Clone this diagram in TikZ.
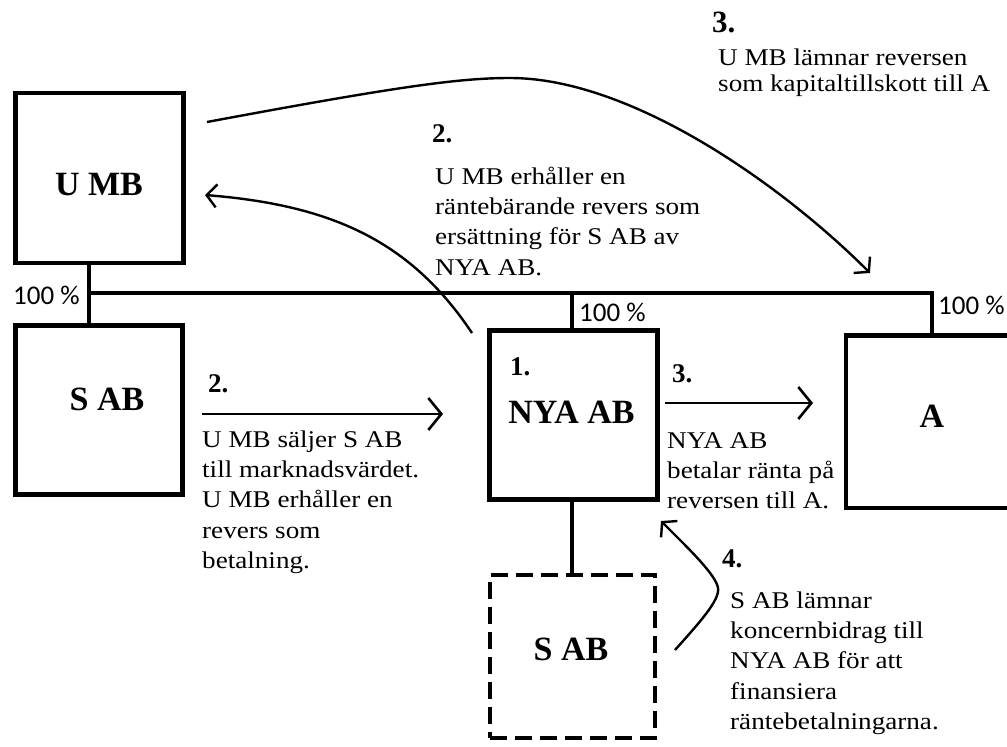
\documentclass[tikz,border=0pt]{standalone}
\usepackage{fontspec}
\setmainfont{Liberation Serif}
\newfontfamily\bodyfont[FakeStretch=1.13]{Liberation Serif}
\newfontfamily\pctfont{Carlito}
\usetikzlibrary{arrows.meta}
\newcommand\myst{\rule{0pt}{.92em}}
\tikzset{
 box/.style={draw, line width=4.5pt, inner sep=0pt, outer sep=0pt},
 dbox/.style={box, dash pattern=on 17pt off 8pt},
 lbl/.style={inner sep=0pt, anchor=base, font=\bfseries\fontsize{34}{34}\selectfont},
 num/.style={inner sep=0pt, anchor=base west, font=\bfseries\fontsize{27}{27}\selectfont},
 pct/.style={inner sep=0pt, anchor=base west, font=\pctfont\fontsize{27}{27}\selectfont},
 txt/.style={inner sep=0pt, anchor=north west, align=left, font=\bodyfont\fontsize{24}{30.3}\selectfont},
 ttxt/.style={inner sep=0pt, anchor=north west, align=left, font=\bodyfont\fontsize{24}{26}\selectfont},
 conn/.style={line width=4pt, line join=miter},
 arr/.style={line width=2.6pt, -{Straight Barb[length=13pt,width=32pt]}},
 carr/.style={line width=2.4pt, -{Straight Barb[length=10pt,width=23pt]}},
}
\begin{document}
\begin{tikzpicture}[x=1pt,y=-1pt]
\useasboundingbox (0,0) rectangle (1007,747);
\fill[white] (0,0) rectangle (1007,747);
\clip (0,0) rectangle (1007,747);

% boxes
\node[box, minimum width=168pt, minimum height=170pt] (umb) at (99.5,178) {};
\node[box, minimum width=167pt, minimum height=169pt] (sab) at (99,410) {};
\node[box, minimum width=168pt, minimum height=169pt] (nya) at (573.5,415) {};
\node[box, minimum width=172pt, minimum height=172.5pt] (a) at (932,421.75) {};
\node[dbox, minimum width=165pt, minimum height=163pt] (sab2) at (572.5,656.5) {};

% box labels
\node[lbl] (umbl) at (99,195) {U MB};
\node[lbl] (sabl) at (107,410) {S AB};
\node[lbl] (nyal) at (571.5,423) {NYA AB};
\node[lbl] (al) at (932,427) {A};
\node[lbl] (sab2l) at (571,660) {S AB};
\node[num] (n1) at (510,375) {1.};

% ownership lines
\coordinate (j1) at (89,293);
\coordinate (j2) at (572,293);
\coordinate (j3) at (932,293);
\draw[conn] (umb.south -| j1) -- (sab.north -| j1);
\draw[conn] (j1) -- (j3) -- (a.north -| j3);
\draw[conn] (j2) -- (nya.north -| j2);
\draw[conn] (nya.south -| j2) -- (sab2.north -| j2);
\node[pct] (p1) at (13,304) {100 \%};
\node[pct] (p2) at (579,321) {100 \%};
\node[pct] (p3) at (938,314) {100 \%};

% straight arrows
\coordinate (y2) at (0,414);
\coordinate (y3) at (0,403);
\draw[arr, shorten <=19.5pt, shorten >=46.5pt] (sab.east |- y2) -- (nya.west |- y2);
\draw[arr, shorten <=7.5pt, shorten >=33pt] (nya.east |- y3) -- (a.west |- y3);

% curved arrows
\coordinate (c1s) at (472,333);
\coordinate (c1e) at (205,195);
\draw[carr] (c1s) .. controls (410,240) and (330,205) .. (c1e);
\coordinate (c2s) at (207,122);
\coordinate (c2e) at (870,273);
\draw[carr] (c2s) .. controls (400,86) and (460,78) .. (510,78) .. controls (630,78) and (780,183) .. (c2e);
\coordinate (c3s) at (675,650);
\coordinate (c3e) at (661,521);
\draw[carr] (c3s) .. controls (700,622) and (720,600) .. (718,588) .. controls (716,575) and (690,550) .. (c3e);

% texts
\node[num, font=\bfseries\fontsize{31}{31}\selectfont] (n3top) at (712,32) {3.};
\node[ttxt] (t3top) at (718,43) {\myst U MB lämnar reversen\\som kapitaltillskott till A};
\node[num] (n2top) at (432,142) {2.};
\node[txt] (t2top) at (435,162) {\myst U MB erhåller en\\räntebärande revers som\\ersättning för S AB av\\NYA AB.};
\node[num] (n2) at (208,392) {2.};
\node[txt] (t2) at (202,425) {\myst U MB säljer S AB\\till marknadsvärdet.\\U MB erhåller en\\revers som\\betalning.};
\node[num] (n3) at (672,382) {3.};
\node[txt] (t3) at (667,426) {\myst NYA AB\\betalar ränta på\\reversen till A.};
\node[num] (n4) at (722,567) {4.};
\node[txt] (t4) at (730,586) {\myst S AB lämnar\\koncernbidrag till\\NYA AB för att\\finansiera\\räntebetalningarna.};
\end{tikzpicture}
\end{document}
